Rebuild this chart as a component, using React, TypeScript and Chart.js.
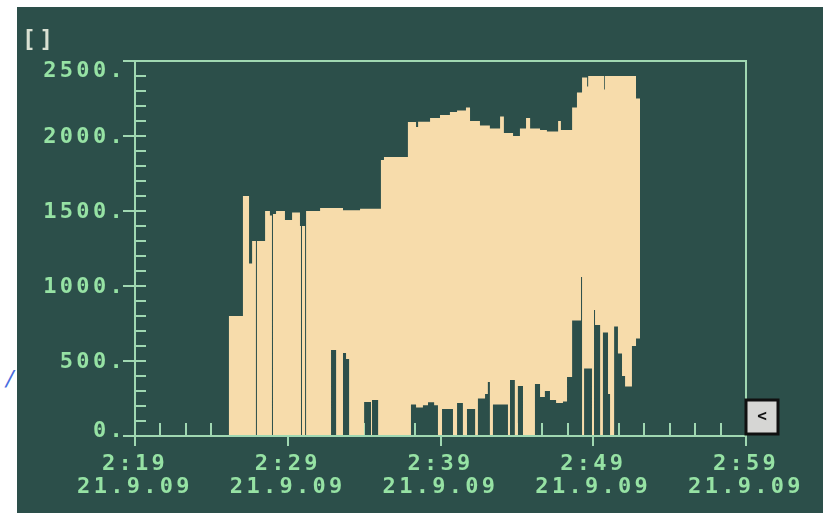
import React, { useEffect, useRef } from 'react';
import { Chart, registerables } from 'chart.js';

Chart.register(...registerables);

const BG = '#2c4f4a';
const FILL = '#f7dcab';
const TEXT = '#96e2a4';
const AXIS = '#a0d8b2';
const UNIT_COLOR = '#d9e0d2';

// x axis: seconds after 2:19:00 on 21.9.09
const X_TICK_LABELS = ['2:19', '2:29', '2:39', '2:49', '2:59'];
const DATE_LABEL = '21.9.09';
const Y_UNIT_LABEL = '[]';

// segment start times (s) of the sampled signal, with its upper and lower envelope
const TIMES = [
  0, 369, 424, 448, 460, 475, 479, 511, 530, 538, 542, 554, 589, 617, 648, 652, 656, 668, 672, 727,
  770, 790, 817, 829, 841, 884, 900, 927, 931, 955, 966, 978, 1072, 1084, 1104, 1112, 1131, 1151, 1159, 1175,
  1190, 1198, 1206, 1237, 1249, 1265, 1288, 1300, 1304, 1316, 1336, 1347, 1355, 1375, 1386, 1394, 1406, 1434, 1449, 1465,
  1473, 1485, 1492, 1504, 1512, 1524, 1536, 1552, 1571, 1591, 1610, 1618, 1630, 1654, 1662, 1673, 1681, 1697, 1717, 1736,
  1752, 1756, 1764, 1776, 1780, 1795, 1803, 1807, 1827, 1838, 1843, 1846, 1858, 1866, 1882, 1897, 1913, 1925, 1952, 1968,
  1984,
];
const HI = [
  0, 800, 1600, 1150, 1300, 0, 1300, 1500, 1470, 0, 1480, 1500, 1440, 1490, 1400, 0, 1400, 0, 1500, 1520,
  1520, 1520, 1505, 1505, 1505, 1515, 1515, 1515, 1515, 1515, 1840, 1860, 2093, 2093, 2060, 2095, 2095, 2095, 2120, 2120,
  2120, 2140, 2140, 2160, 2160, 2170, 2170, 2190, 2190, 2100, 2100, 2100, 2070, 2070, 2070, 2050, 2050, 2130, 2020, 2020,
  2020, 2000, 2000, 2000, 2050, 2050, 2120, 2050, 2050, 2040, 2040, 2030, 2030, 2030, 2100, 2040, 2040, 2040, 2190, 2290,
  2290, 2390, 2390, 2330, 2400, 2400, 2400, 2400, 2400, 2400, 2310, 2400, 2400, 2400, 2400, 2400, 2400, 2400, 2400, 2250,
  0,
];
const LO = [
  0, 0, 0, 0, 0, 0, 0, 0, 0, 0, 0, 0, 0, 0, 0, 0, 0, 0, 0, 0,
  573, 0, 553, 513, 0, 0, 227, 0, 240, 0, 0, 0, 0, 210, 190, 190, 205, 225, 225, 205,
  0, 0, 180, 180, 0, 220, 0, 0, 180, 180, 0, 250, 250, 280, 360, 0, 210, 210, 210, 0,
  373, 373, 0, 333, 333, 0, 0, 0, 347, 260, 300, 300, 240, 220, 220, 220, 230, 393, 770, 770,
  1060, 0, 450, 450, 450, 0, 840, 740, 0, 690, 690, 690, 280, 0, 730, 550, 400, 330, 600, 650,
  0,
];

const FAMILY = "'DejaVu Sans Mono', monospace";
const FONT = { family: FAMILY, size: 22, weight: 'bold' as const, lineHeight: 1.05 };
const yLabel = (n: number) => (n % 500 === 0 ? `${n}.` : '');

const backgroundPlugin = {
  id: 'bgPlugin',
  beforeDraw(chart: any) {
    const ctx = chart.ctx;
    ctx.save();
    ctx.fillStyle = BG;
    ctx.fillRect(0, 0, chart.width, chart.height);
    ctx.restore();
    ctx.letterSpacing = '3.3px';
  },
};

const ticksPlugin = {
  id: 'ticksPlugin',
  beforeDatasetsDraw(chart: any) {
    const { ctx, chartArea, scales } = chart;
    const { left, top, bottom } = chartArea;
    const xs = scales.x;
    const ys = scales.y;
    ctx.save();
    ctx.strokeStyle = AXIS;
    ctx.lineWidth = 2;
    ctx.beginPath();
    ys.ticks.forEach((t: any) => {
      const py = Math.round(ys.getPixelForValue(t.value));
      const major = t.value % 500 === 0;
      ctx.moveTo(major ? left - 12 : left, py);
      ctx.lineTo(left + 11, py);
    });
    xs.ticks.forEach((t: any) => {
      const px = Math.round(xs.getPixelForValue(t.value));
      const major = t.value % 600 === 0;
      ctx.moveTo(px, major ? bottom + 10 : bottom);
      ctx.lineTo(px, bottom - (major ? 24 : 13));
    });
    ctx.stroke();

    // y tick labels, kept inside the frame at both ends
    ctx.fillStyle = TEXT;
    ctx.font = `bold 22px ${FAMILY}`;
    ctx.textAlign = 'right';
    ctx.textBaseline = 'middle';
    ys.ticks.forEach((t: any) => {
      const txt = yLabel(t.value);
      if (!txt) return;
      let py = ys.getPixelForValue(t.value);
      py = Math.max(top + 9, Math.min(bottom - 6, py));
      ctx.fillText(txt, left - 9, py + 1);
    });
    ctx.restore();
  },
};

const framePlugin = {
  id: 'framePlugin',
  afterDatasetsDraw(chart: any) {
    const { ctx, chartArea } = chart;
    const { left, right, top, bottom } = chartArea;
    ctx.save();
    ctx.strokeStyle = AXIS;
    ctx.lineWidth = 2;
    ctx.beginPath();
    ctx.moveTo(left - 12, top);
    ctx.lineTo(right + 1, top);
    ctx.moveTo(right, top);
    ctx.lineTo(right, bottom + 10);
    ctx.moveTo(left, top);
    ctx.lineTo(left, bottom + 10);
    ctx.moveTo(left - 12, bottom);
    ctx.lineTo(right, bottom);
    ctx.stroke();

    // small scroll button at the lower right
    const bx = right;
    const by = bottom - 36;
    ctx.fillStyle = '#d6d6d4';
    ctx.fillRect(bx, by, 32, 34);
    ctx.strokeStyle = '#101010';
    ctx.lineWidth = 3;
    ctx.strokeRect(bx, by, 32, 34);
    ctx.letterSpacing = '0px';
    ctx.fillStyle = '#111111';
    ctx.font = `bold 16px ${FAMILY}`;
    ctx.textAlign = 'center';
    ctx.textBaseline = 'middle';
    ctx.fillText('<', bx + 16, by + 17);
    ctx.restore();
  },
};

export default function App() {
  const ref = useRef<HTMLCanvasElement | null>(null);

  useEffect(() => {
    if (!ref.current) return;
    const hiPts = TIMES.map((t, i) => ({ x: t, y: HI[i] }));
    const loPts = TIMES.map((t, i) => ({ x: t, y: LO[i] }));
    const chart = new Chart(ref.current, {
      type: 'line',
      data: {
        datasets: [
          {
            label: 'max',
            data: hiPts,
            stepped: true,
            fill: '+1',
            backgroundColor: FILL,
            borderColor: 'rgba(0,0,0,0)',
            borderWidth: 0,
            pointRadius: 0,
          },
          {
            label: 'min',
            data: loPts,
            stepped: true,
            fill: false,
            borderColor: 'rgba(0,0,0,0)',
            borderWidth: 0,
            pointRadius: 0,
          },
        ],
      },
      options: {
        animation: false,
        responsive: true,
        maintainAspectRatio: false,
        layout: { padding: { left: 5, top: 0, right: 77, bottom: 0 } },
        plugins: {
          legend: { display: false },
          tooltip: { enabled: false },
          title: {
            display: true,
            text: Y_UNIT_LABEL,
            align: 'start',
            color: UNIT_COLOR,
            font: { family: FAMILY, size: 23, weight: 'bold', lineHeight: 1 },
            padding: { top: 23, bottom: 8 },
          },
        },
        scales: {
          x: {
            type: 'linear',
            min: 0,
            max: 2400,
            grid: { display: false, drawTicks: false },
            border: { display: false },
            ticks: {
              stepSize: 100,
              autoSkip: false,
              maxRotation: 0,
              minRotation: 0,
              padding: 17,
              color: TEXT,
              font: FONT,
              callback: (v: any) => {
                const n = Number(v);
                return n % 600 === 0 ? [X_TICK_LABELS[n / 600], DATE_LABEL] : '';
              },
            },
            afterFit: (scale: any) => {
              scale.height = 77;
            },
          },
          y: {
            type: 'linear',
            min: 0,
            max: 2500,
            grid: { display: false, drawTicks: false },
            border: { display: false },
            ticks: {
              display: false,
              stepSize: 100,
              autoSkip: false,
              callback: (v: any) => yLabel(Number(v)),
            },
            afterFit: (scale: any) => {
              scale.width = 113;
            },
          },
        },
      },
      plugins: [backgroundPlugin, ticksPlugin, framePlugin],
    });
    return () => chart.destroy();
  }, []);

  return (
    <div style={{ position: 'fixed', left: 0, top: 0, width: 823, height: 513, background: '#ffffff', overflow: 'hidden' }}>
      <div style={{ position: 'absolute', left: 17, top: 7, width: 806, height: 506, background: BG }}>
        <canvas ref={ref} />
      </div>
      <span
        style={{
          position: 'absolute',
          left: 6,
          top: 366,
          zIndex: 1,
          color: '#4a6ee0',
          fontSize: 22,
          fontStyle: 'italic',
          fontFamily: "'DejaVu Sans', sans-serif",
        }}
      >
        /
      </span>
    </div>
  );
}
